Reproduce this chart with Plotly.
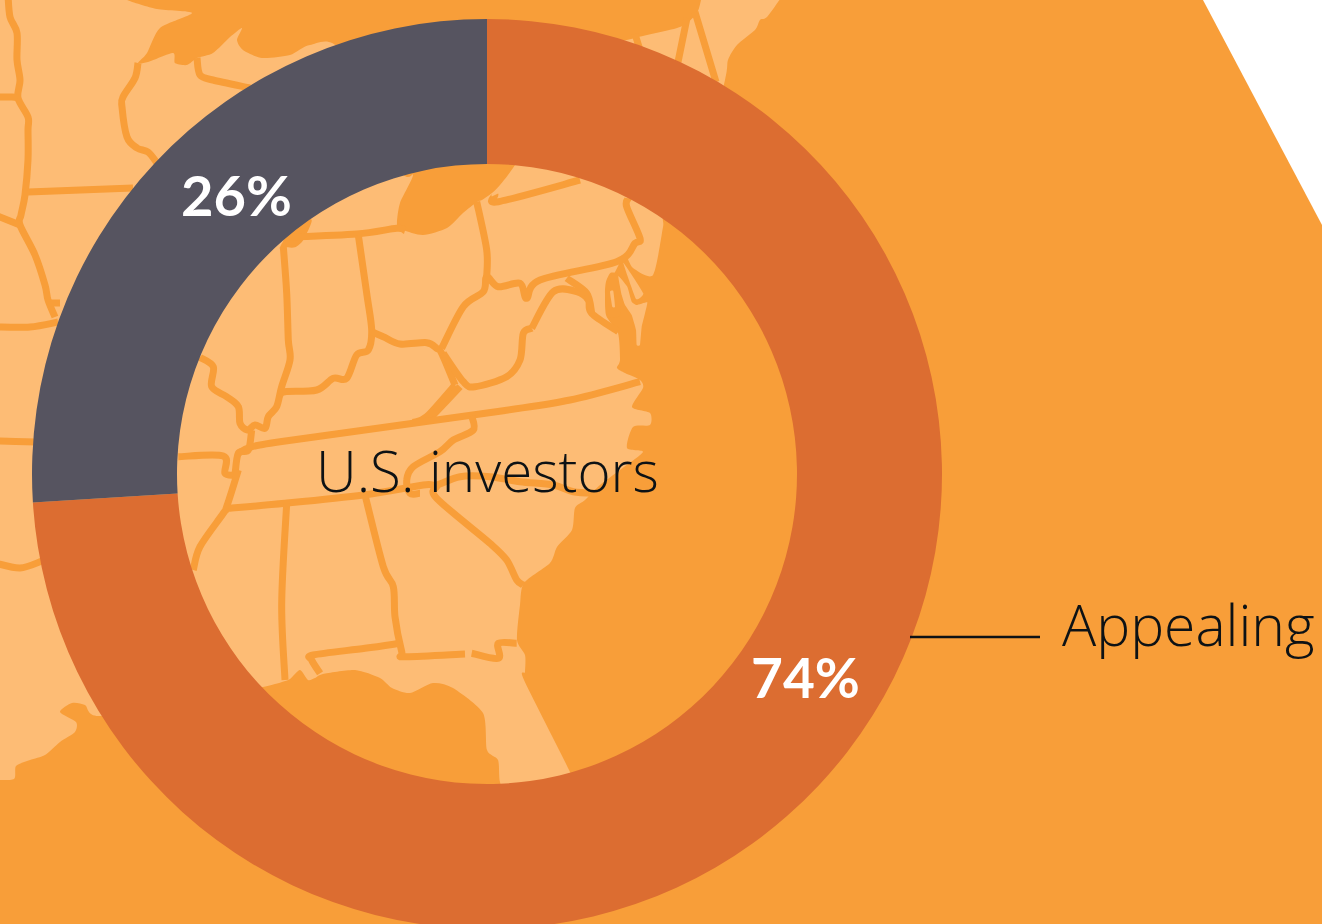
import plotly.graph_objects as go

# ---- chart data ----
segment_labels = ["Appealing", "Not appealing"]
segment_values = [74, 26]
segment_colors = ["#DC6D31", "#565460"]
center_label = "U.S. investors"
callout_label = "Appealing"

OCEAN = "#F89E39"
LAND = "#FDBC75"
W, H, PH = 1322, 948, 924
CX, CY, R_OUT, R_IN = 487, 474, 455, 310


def z1(pts):
    return [(170 + x / 3, 160 + y / 3) for x, y in pts]


def z2(pts):
    return [(170 + x / 3, 470 + y / 3) for x, y in pts]


def z3(pts):
    return [(590 + x / 3, 250 + y / 3) for x, y in pts]


def smooth(pts, close=False, k=0.16):
    n = len(pts)
    get = (lambda i: pts[i % n]) if close else (lambda i: pts[max(0, min(n - 1, i))])
    d = f"M{pts[0][0]:.1f},{pts[0][1]:.1f}"
    for i in range(n if close else n - 1):
        p0, p1, p2, p3 = get(i - 1), get(i), get(i + 1), get(i + 2)
        c1 = (p1[0] + (p2[0] - p0[0]) * k, p1[1] + (p2[1] - p0[1]) * k)
        c2 = (p2[0] - (p3[0] - p1[0]) * k, p2[1] - (p3[1] - p1[1]) * k)
        d += f"C{c1[0]:.1f},{c1[1]:.1f} {c2[0]:.1f},{c2[1]:.1f} {p2[0]:.1f},{p2[1]:.1f}"
    return d + ("Z" if close else "")


land_outline = [
    (-5, -5), (-5, -5), (127, -5), (127, 0), (157, 9), (192, 13), (160, 28), (147, 53), (138, 63), (148, 62), (173, 53), (175, 63),
    (187, 65), (197, 58), (213, 53), (230, 37), (242, 28), (237, 40), (243, 50), (262, 58), (290, 55),
    (310, 45), (340, 50), (400, 170), (413, 175), (400, 203), (397, 225), (403, 230), (423, 235), (447, 228),
    (463, 213), (477, 202), (482, 200), (492, 193), (500, 185), (513, 168), (560, 100), (600, 50), (635, 38),
    (680, 27), (697, 13), (702, -5), (702, -5), (783, -5), (783, -5), (767, 17), (760, 20), (755, 30), (737, 45), (728, 60), (725, 80),
    (700, 180), (665, 215), (663, 227), (653, 275), (633, 268), (625, 255), (615, 272), (606, 287), (606, 315),
    (618, 333), (620, 360), (617, 368), (625, 373), (640, 380), (643, 388), (632, 407), (650, 413), (650, 425), (633, 427),
    (627, 448), (643, 452), (620, 470), (600, 485), (585, 500), (575, 508), (572, 530), (557, 547), (550, 563),
    (524, 583), (520, 605), (517, 640), (525, 655), (525, 672), (524, 680), (570, 772), (590, 820), (510, 800), (500, 782),
    (498, 760), (487, 750), (483, 713), (453, 688), (433, 683), (410, 693), (392, 688), (380, 678), (355, 670),
    (323, 674), (315, 678), (308, 680), (300, 670), (290, 679), (282, 682), (263, 687), (200, 700), (100, 716),
    (85, 705), (72, 703), (60, 712), (76, 722), (75, 732), (60, 742), (45, 755), (30, 760), (16, 766), (14, 779),
    (-5, 780), (-5, 780),
]

lake_tip = z1([(330, 262), (345, 262), (375, 262), (400, 240), (425, 180), (380, 180)])
bay_shore = z3([(62, 68), (48, 95), (45, 130), (52, 196), (90, 196), (90, 80)])
islands = [
    z3([(100, 38), (160, 130), (138, 147)]),
    z3([(60, 125), (70, 123), (75, 170), (67, 170)]),
    z3([(85, 78), (112, 110), (125, 155), (140, 165), (172, 157), (165, 190), (155, 230), (150, 285), (140, 285),
        (138, 240), (125, 195), (105, 165), (95, 135)]),
]

borders = [
    [(8, -5), (10, 17), (17, 33), (17, 60), (20, 80), (18, 98), (28, 117), (28, 130), (28, 160), (25, 195), (21, 215), (20, 225), (35, 255), (45, 285), (48, 300), (55, 317)],
    [(-5, 97), (12, 97), (18, 98)],
    [(28, 192), (133, 188)],
    [(-5, 215), (20, 225)],
    [(48, 303), (60, 303)],
    [(-5, 327), (30, 327), (58, 322)],
    [(-5, 441), (36, 442)],
    [(-5, 563), (20, 568), (42, 561)],
    [(138, 63), (135, 78), (123, 97), (122, 107), (127, 137), (137, 148), (148, 152), (157, 163)],
    [(197, 58), (200, 75), (213, 80), (250, 88)],
    z1([(340, 232), (560, 222), (680, 205), (705, 212)]),
    z1([(340, 260), (350, 400), (355, 540), (360, 600), (335, 680), (320, 740), (295, 770), (285, 805), (255, 795), (232, 810), (210, 790), (205, 740), (170, 710), (125, 680), (130, 620), (90, 592)]),
    z1([(565, 225), (590, 400), (605, 510), (595, 570), (560, 585), (530, 655), (490, 655), (440, 690), (345, 695), (330, 705)]),
    z1([(605, 515), (640, 530), (690, 552), (770, 548), (800, 565), (815, 580), (855, 675)]),
    z1([(815, 565), (880, 440), (940, 395), (950, 350), (985, 380), (1050, 370), (1070, 415), (1110, 360), (1340, 305), (1395, 250), (1410, 235), (1370, 140), (1375, 115)]),
    z1([(1085, 505), (1150, 395), (1220, 395), (1255, 420), (1265, 460), (1345, 515)]),
    z1([(1190, 355), (1250, 400), (1265, 460)]),
    z1([(920, 125), (950, 270), (950, 350)]),
    z1([(975, 105), (985, 125), (1230, 60)]),
    z1([(820, 580), (880, 665), (915, 680), (1010, 650), (1050, 600), (1060, 520), (1085, 505)]),
    z1([(855, 675), (770, 770), (730, 787)]),
    z1([(870, 680), (780, 775)]),
    z1([(205, 880), (240, 862), (330, 845), (730, 790), (1000, 752), (1200, 720), (1410, 665)]),
    z1([(245, 810), (235, 870), (205, 880), (195, 945)]),
    z1([(200, 945), (165, 940), (160, 888), (25, 890)]),
    z1([(905, 768), (910, 810), (850, 840), (810, 875), (730, 920), (710, 960), (720, 1000), (750, 1000)]),
    z2([(205, 0), (170, 110), (160, 130), (90, 230), (70, 300)]),
    z2([(175, 115), (345, 100), (580, 75), (760, 45), (800, 45), (870, 20), (960, 20), (1050, 35), (1150, 45), (1210, 65), (1280, 70)]),
    z2([(800, 50), (800, 85), (960, 220), (1010, 270), (1040, 330), (1060, 345)]),
    z2([(350, 100), (335, 400), (345, 630)]),
    z2([(585, 75), (640, 290), (670, 350), (675, 440), (695, 545), (705, 560), (885, 552)]),
    z2([(690, 520), (585, 535), (430, 555), (425, 570), (450, 610)]),
    z2([(905, 550), (985, 565), (985, 520), (1040, 520)]),
]
thick_borders = [
    [(635, 34), (640, 50)],
    [(687, 18), (678, 62)],
    [(695, 12), (716, 82)],
]

shapes = [
    dict(type="path", path=smooth(land_outline, close=True, k=0.12), fillcolor=LAND, line=dict(width=0), xref="x", yref="y", layer="below"),
    dict(type="path", path=smooth(lake_tip, close=True, k=0.12), fillcolor=OCEAN, line=dict(width=0), xref="x", yref="y", layer="below"),
    dict(type="path", path=smooth(bay_shore, close=True, k=0.1), fillcolor=OCEAN, line=dict(width=0), xref="x", yref="y", layer="below"),
    dict(type="path", path="M1203,0L1322,225L1322,0Z", fillcolor="#FFFFFF", line=dict(width=0), xref="x", yref="y", layer="below"),
]
for b in borders:
    shapes.append(dict(type="path", path=smooth(b), line=dict(color=OCEAN, width=7), xref="x", yref="y", layer="below"))
for b in thick_borders:
    shapes.append(dict(type="path", path=smooth(b), line=dict(color=OCEAN, width=7), xref="x", yref="y", layer="below"))
for isl in islands:
    shapes.append(dict(type="path", path=smooth(isl, close=True, k=0.06), fillcolor=LAND, line=dict(width=0), xref="x", yref="y", layer="below"))
shapes.append(dict(type="line", x0=910, x1=1040, y0=637, y1=637, line=dict(color="#0D1215", width=2.5), xref="x", yref="y", layer="above"))

fig = go.Figure()
fig.add_trace(go.Scatter(x=[0, W], y=[0, H], mode="none", hoverinfo="skip", showlegend=False))
fig.add_trace(go.Pie(
    labels=segment_labels, values=segment_values, sort=False, direction="clockwise", rotation=0,
    hole=R_IN / R_OUT, textinfo="none", showlegend=False,
    marker=dict(colors=segment_colors, line=dict(width=0)),
    domain=dict(x=[(CX - R_OUT) / W, (CX + R_OUT) / W], y=[(H - CY - R_OUT) / H, (H - CY + R_OUT) / H]),
))


def note(x, y, text, size, color, weight, family, anchor="center"):
    return dict(x=x, y=y, xref="x", yref="y", text=text, showarrow=False, xanchor=anchor, yanchor="middle",
                font=dict(family=family, size=size, color=color, weight=weight))


annotations = [
    note(CX, 470, center_label, 56.5, "#0D1215", 300, "Open Sans"),
    note(1060, 624, callout_label, 57, "#0D1215", 300, "Open Sans", "left"),
    note(236, 194, f"{segment_values[1]}%", 56, "#FFFFFF", 700, "Lato"),
    note(805, 677, f"{segment_values[0]}%", 55, "#FFFFFF", 700, "Lato"),
]

fig.update_layout(
    width=W, height=H, margin=dict(l=0, r=0, t=0, b=0), autosize=False,
    paper_bgcolor=OCEAN, plot_bgcolor=OCEAN, showlegend=False,
    xaxis=dict(range=[0, W], visible=False, domain=[0, 1], fixedrange=True),
    yaxis=dict(range=[H, 0], visible=False, domain=[0, 1], fixedrange=True),
    shapes=shapes, annotations=annotations,
)
fig.write_html("out.html", config=dict(displayModeBar=False),
               post_script="document.body.style.margin='0';document.documentElement.style.overflow='hidden';document.body.style.overflow='hidden';")
